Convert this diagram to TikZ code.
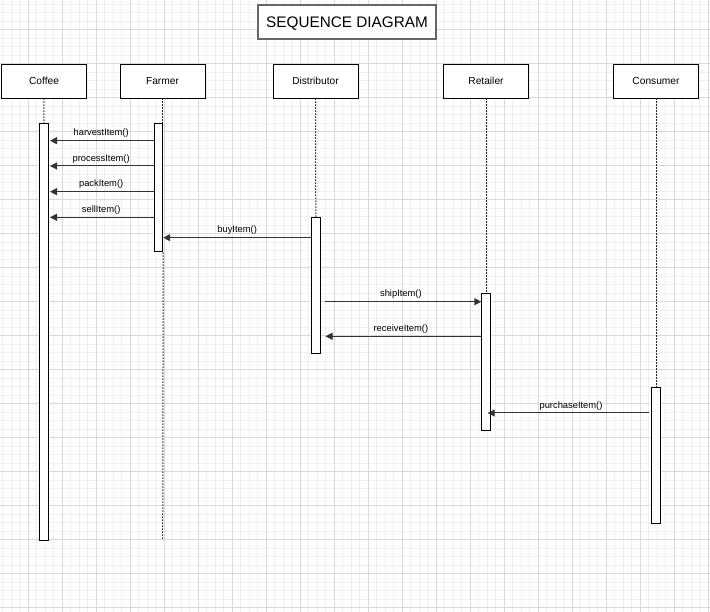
\documentclass[tikz,border=0pt]{standalone}
\usepackage{fontspec}
\setmainfont{Liberation Sans}
\usetikzlibrary{arrows.meta}
\begin{document}
\begin{tikzpicture}[x=1pt,y=-1pt,
  minorgrid/.style={draw=black!6, line width=0.6pt},
  majorgrid/.style={draw=black!15, line width=0.8pt},
  head/.style={draw=black, fill=white, line width=0.9pt, minimum width=85pt, minimum height=34pt, inner sep=0pt,
               text height=7.3pt, text depth=0pt, font=\fontsize{10.2}{12}\selectfont},
  bar/.style={draw=black, fill=white, line width=0.9pt, minimum width=8.5pt, inner sep=0pt, anchor=north},
  life/.style={draw=black!85, line width=1pt, dash pattern=on 1.5pt off 1.5pt},
  msg/.style={draw=black!80, line width=1pt, -{Triangle[length=7pt,width=7pt]}},
  lbl/.style={font=\fontsize{9.35}{11}\selectfont, inner sep=0pt, above=2.5pt, midway, text=black}
]
\useasboundingbox (0,0) rectangle (710,612);
\fill[white] (0,0) rectangle (710,612);
\begin{scope}
\clip (0,0) rectangle (710,612);
\foreach \x in {2.5,11,...,712} \draw[minorgrid] (\x,0) -- (\x,612);
\foreach \y in {4.2,12.7,...,614} \draw[minorgrid] (0,\y) -- (710,\y);
\foreach \x in {28,62,...,712} \draw[majorgrid] (\x,0) -- (\x,612);
\foreach \y in {29.7,63.7,...,614} \draw[majorgrid] (0,\y) -- (710,\y);
\end{scope}

% title
\node[draw=black!60, fill=white, line width=1.5pt, minimum width=178pt, minimum height=34pt, inner sep=0pt,
      text height=11pt, text depth=0pt, font=\fontsize{15.3}{18}\selectfont] (title) at (347,22) {SEQUENCE DIAGRAM};

% lifeline heads
\node[head] (coffee) at (44,81) {Coffee};
\node[head] (farmer) at (162.5,81) {Farmer};
\node[head] (distributor) at (315.5,81) {Distributor};
\node[head] (retailer) at (486,81) {Retailer};
\node[head] (consumer) at (656,81) {Consumer};

% activation bars
\node[bar, minimum height=417pt] (cbar) at (43.8,123) {};
\node[bar, minimum height=128.5pt] (fbar) at (158.5,123) {};
\node[bar, minimum height=136pt] (dbar) at (315.8,217.3) {};
\node[bar, minimum height=136.7pt] (rbar) at (486,293.3) {};
\node[bar, minimum height=136.3pt] (kbar) at (656,387) {};

% lifelines
\coordinate (fend) at (162.7,540);
\draw[life] (coffee.south) -- (cbar.north);
\draw[life] (farmer.south) -- (farmer.south |- fbar.north);
\draw[life] (fbar.south east) -- (fend);
\draw[life] (distributor.south) -- (dbar.north);
\draw[life] (retailer.south) -- (rbar.north);
\draw[life] (consumer.south) -- (kbar.north);

% message rows
\coordinate (r1) at (0,140.7);
\coordinate (r2) at (0,166);
\coordinate (r3) at (0,191.7);
\coordinate (r4) at (0,217.3);
\coordinate (r5) at (0,237.7);
\coordinate (r6) at (0,301.7);
\coordinate (r7) at (0,336.3);
\coordinate (r8) at (0,413);

\draw[msg, shorten >=1.5pt] (fbar.west |- r1) -- (cbar.east |- r1) node[lbl] {harvestItem()};
\draw[msg, shorten >=1.5pt] (fbar.west |- r2) -- (cbar.east |- r2) node[lbl] {processItem()};
\draw[msg, shorten >=1.5pt] (fbar.west |- r3) -- (cbar.east |- r3) node[lbl] {packItem()};
\draw[msg, shorten >=1.5pt] (fbar.west |- r4) -- (cbar.east |- r4) node[lbl] {sellItem()};
\draw[msg] (dbar.west |- r5) -- (fbar.east |- r5) node[lbl] {buyItem()};
\draw[msg, shorten <=4pt] (dbar.east |- r6) -- (rbar.west |- r6) node[lbl] {shipItem()};
\draw[msg, shorten >=5pt] (rbar.west |- r7) -- (dbar.east |- r7) node[lbl] {receiveItem()};
\draw[msg, shorten <=2.5pt, shorten >=-3pt] (kbar.west |- r8) -- (rbar.east |- r8) node[lbl] {purchaseItem()};
\end{tikzpicture}
\end{document}
